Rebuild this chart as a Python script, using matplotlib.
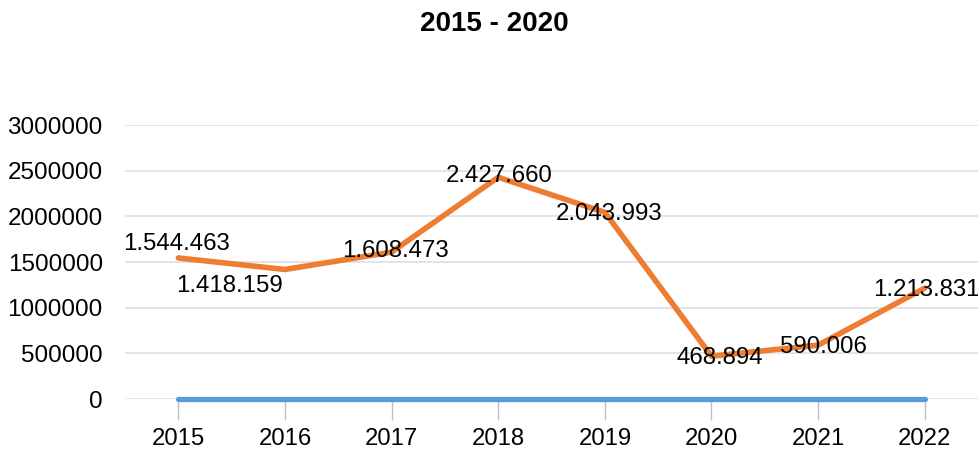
import numpy as np
import matplotlib.pyplot as plt

plt.rcParams['font.family'] = ['Liberation Sans', 'DejaVu Sans']

# data
years = ['2015', '2016', '2017', '2018', '2019', '2020', '2021', '2022']
year_values = [2015, 2016, 2017, 2018, 2019, 2020, 2021, 2022]
visitors = [1544463, 1418159, 1608473, 2427660, 2043993, 468894, 590006, 1213831]
labels = ['1.544.463', '1.418.159', '1.608.473', '2.427.660',
          '2.043.993', '468.894', '590.006', '1.213.831']
# label offsets in points (manual, like the source's placement)
label_offsets = [(-1, 10), (-40, -12), (3, 1), (1, 1), (3, -1), (6, -1), (4, -1), (1, -1)]
yticks = np.arange(0, 3000001, 500000)

fig = plt.figure(figsize=(9.79, 4.5), dpi=100)
ax = fig.add_axes([0.1277, 0.1133, 0.8713, 0.6089])

x = np.arange(len(years))
ax.plot(x, year_values, color='#5B9BD5', linewidth=3.8, solid_capstyle='round',
        clip_on=False, zorder=3)
ax.plot(x, visitors, color='#ED7D31', linewidth=4, solid_capstyle='round',
        solid_joinstyle='round', zorder=3)

for xi, v, lab, off in zip(x, visitors, labels, label_offsets):
    ax.annotate(lab, (xi, v), xytext=off, textcoords='offset points',
                ha='center', va='center', fontsize=17.3, color='#000000', zorder=4)

ax.set_xlim(-0.5, 7.5)
ax.set_ylim(0, 3000000)
ax.set_yticks(yticks)
ax.set_yticklabels([str(t) for t in yticks], fontsize=17.5)
ax.set_xticks(x)
ax.set_xticklabels(years, fontsize=17.2)
ax.tick_params(axis='y', length=0, pad=16)
ax.tick_params(axis='x', length=15, width=1, color='#B4C0D3', pad=6)
ax.grid(axis='y', color='#DFE2E8', linewidth=1.3)
ax.set_axisbelow(True)
for s in ax.spines.values():
    s.set_visible(False)

fig.suptitle('2015 - 2020', x=0.505, y=0.975, fontsize=20, fontweight='bold')

fig.savefig('out.png', dpi=100)
